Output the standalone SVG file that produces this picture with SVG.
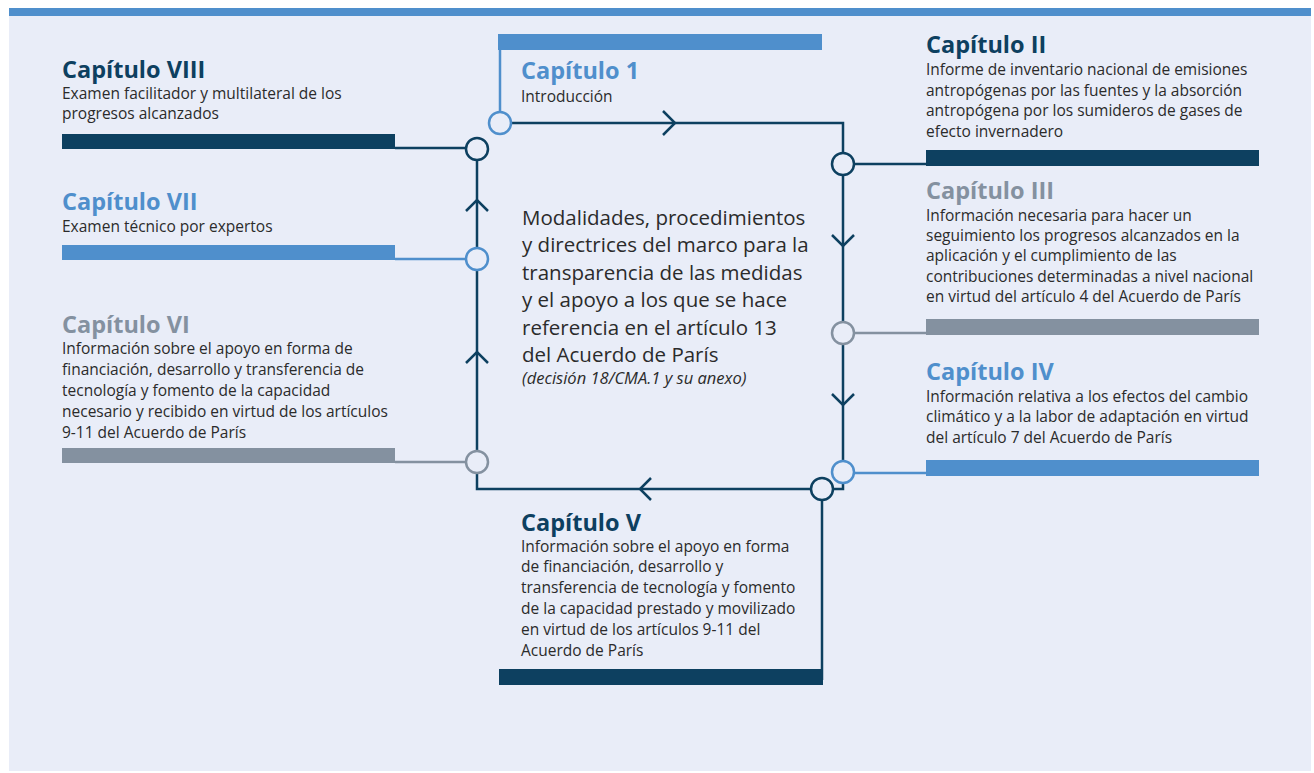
<svg xmlns="http://www.w3.org/2000/svg" width="1314" height="773" viewBox="0 0 1314 773">
<style>
.title{font-family:"Open Sans","Noto Sans",sans-serif;font-weight:700;font-size:23.5px}
.body{font-family:"Open Sans","Noto Sans",sans-serif;font-size:15.5px;fill:#2b2b2b}
.center{font-family:"Open Sans","Noto Sans",sans-serif;font-size:20.5px;fill:#2b2b2b}
.ital{font-family:"Open Sans","Noto Sans",sans-serif;font-size:16.5px;font-style:italic;fill:#2b2b2b}
.navy{fill:#0d4060}.blue{fill:#4f8fcc}.gray{fill:#8491a0}
.ln{fill:none;stroke-width:2.5}
.nodecircle{fill:#e9edf8;stroke-width:2.5}
.chev{fill:none;stroke:#0d4060;stroke-width:2.5}
</style>
<rect x="0" y="0" width="1314" height="773" fill="#ffffff"/>
<rect x="9" y="8" width="1302" height="763" fill="#e9edf8"/>
<rect x="9" y="8" width="1302" height="8" fill="#4f8fcc"/>

<g id="connectors">
<path class="ln" d="M500,123 H843 V489 H477 V149" stroke="#0d4060"/>
<path class="ln" d="M500,50 V112" stroke="#4f8fcc"/>
<path class="ln" d="M395,148 H466" stroke="#0d4060"/>
<path class="ln" d="M395,259 H466" stroke="#4f8fcc"/>
<path class="ln" d="M395,462 H466" stroke="#8491a0"/>
<path class="ln" d="M854,164 H930" stroke="#0d4060"/>
<path class="ln" d="M854,333 H930" stroke="#8491a0"/>
<path class="ln" d="M854,473 H930" stroke="#4f8fcc"/>
<path class="ln" d="M822,500 V680" stroke="#0d4060"/>
<path class="chev" d="M663,111 L675,123 L663,135"/>
<path class="chev" d="M832,235 L843,246 L854,235"/>
<path class="chev" d="M832,394 L843,405 L854,394"/>
<path class="chev" d="M651,478 L640,489 L651,500"/>
<path class="chev" d="M466,363 L477,352 L488,363"/>
<path class="chev" d="M466,211 L477,200 L488,211"/>
</g>

<g id="centro">
<text class="center" x="522" y="225">Modalidades, procedimientos</text>
<text class="center" x="522" y="252">y directrices del marco para la</text>
<text class="center" x="522" y="280">transparencia de las medidas</text>
<text class="center" x="522" y="307">y el apoyo a los que se hace</text>
<text class="center" x="522" y="335">referencia en el artículo 13</text>
<text class="center" x="522" y="362">del Acuerdo de París</text>
<text class="ital" x="522" y="384">(decisión 18/CMA.1 y su anexo)</text>
</g>

<g id="cap1">
<rect x="498" y="34" width="324" height="16" fill="#4f8fcc"/>
<circle class="nodecircle" cx="500" cy="123" r="11" stroke="#4f8fcc"/>
<text class="title blue" x="521" y="79">Capítulo 1</text>
<text class="body" x="521" y="102">Introducción</text>
</g>

<g id="cap2">
<rect x="926" y="150" width="333" height="16" fill="#0d4060"/>
<circle class="nodecircle" cx="843" cy="164" r="11" stroke="#0d4060"/>
<text class="title navy" x="926" y="53">Capítulo II</text>
<text class="body" x="926" y="75">Informe de inventario nacional de emisiones</text>
<text class="body" x="926" y="96">antropógenas por las fuentes y la absorción</text>
<text class="body" x="926" y="116">antropógena por los sumideros de gases de</text>
<text class="body" x="926" y="137">efecto invernadero</text>
</g>

<g id="cap3">
<rect x="926" y="319" width="333" height="16" fill="#8491a0"/>
<circle class="nodecircle" cx="843" cy="333" r="11" stroke="#8491a0"/>
<text class="title gray" x="926" y="199">Capítulo III</text>
<text class="body" x="926" y="221">Información necesaria para hacer un</text>
<text class="body" x="926" y="241">seguimiento los progresos alcanzados en la</text>
<text class="body" x="926" y="261">aplicación y el cumplimiento de las</text>
<text class="body" x="926" y="282">contribuciones determinadas a nivel nacional</text>
<text class="body" x="926" y="302">en virtud del artículo 4 del Acuerdo de París</text>
</g>

<g id="cap4">
<rect x="926" y="460" width="333" height="16" fill="#4f8fcc"/>
<circle class="nodecircle" cx="843" cy="472" r="11" stroke="#4f8fcc"/>
<text class="title blue" x="926" y="380">Capítulo IV</text>
<text class="body" x="926" y="402">Información relativa a los efectos del cambio</text>
<text class="body" x="926" y="422">climático y a la labor de adaptación en virtud</text>
<text class="body" x="926" y="443">del artículo 7 del Acuerdo de París</text>
</g>

<g id="cap5">
<rect x="499" y="669" width="324" height="16" fill="#0d4060"/>
<circle class="nodecircle" cx="822" cy="489" r="11" stroke="#0d4060"/>
<text class="title navy" x="521" y="531">Capítulo V</text>
<text class="body" x="521" y="552">Información sobre el apoyo en forma</text>
<text class="body" x="521" y="572">de financiación, desarrollo y</text>
<text class="body" x="521" y="593">transferencia de tecnología y fomento</text>
<text class="body" x="521" y="614">de la capacidad prestado y movilizado</text>
<text class="body" x="521" y="635">en virtud de los artículos 9-11 del</text>
<text class="body" x="521" y="656">Acuerdo de París</text>
</g>

<g id="cap6">
<rect x="62" y="448" width="333" height="15" fill="#8491a0"/>
<circle class="nodecircle" cx="477" cy="462" r="11" stroke="#8491a0"/>
<text class="title gray" x="62" y="333">Capítulo VI</text>
<text class="body" x="62" y="354">Información sobre el apoyo en forma de</text>
<text class="body" x="62" y="375">financiación, desarrollo y transferencia de</text>
<text class="body" x="62" y="396">tecnología y fomento de la capacidad</text>
<text class="body" x="62" y="417">necesario y recibido en virtud de los artículos</text>
<text class="body" x="62" y="438">9-11 del Acuerdo de París</text>
</g>

<g id="cap7">
<rect x="62" y="245" width="333" height="15" fill="#4f8fcc"/>
<circle class="nodecircle" cx="477" cy="259" r="11" stroke="#4f8fcc"/>
<text class="title blue" x="62" y="210">Capítulo VII</text>
<text class="body" x="62" y="232">Examen técnico por expertos</text>
</g>

<g id="cap8">
<rect x="62" y="134" width="333" height="15" fill="#0d4060"/>
<circle class="nodecircle" cx="477" cy="149" r="11" stroke="#0d4060"/>
<text class="title navy" x="62" y="78">Capítulo VIII</text>
<text class="body" x="62" y="99">Examen facilitador y multilateral de los</text>
<text class="body" x="62" y="119">progresos alcanzados</text>
</g>
</svg>
